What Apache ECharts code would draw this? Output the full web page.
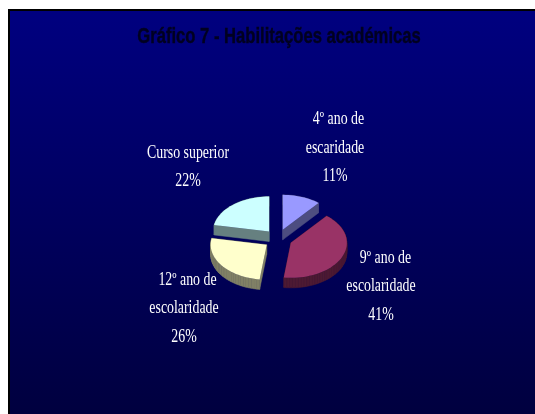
<!DOCTYPE html>
<html>
<head>
<meta charset="utf-8">
<style>html,body{margin:0;padding:0;background:#fff}#c{width:535px;height:414px}</style>
<script src="https://cdn.jsdelivr.net/npm/echarts@6/dist/echarts.min.js"></script>
</head>
<body>
<div id="c"></div>
<script>
var titleText = 'Gráfico 7 - Habilitações académicas';
var categories = ['4º ano de\nescaridade', '9º ano de\nescolaridade', '12º ano de\nescolaridade', 'Curso superior'];
var values = [11, 41, 26, 22];
var topColors = ['#9999FF', '#993366', '#FFFFCC', '#CCFFFF'];
var sideColors = ['#4D4D80', '#4D1A33', '#808066', '#668080'];
var labelCenters = [[335, 148], [381, 286.5], [184, 308.5], [188, 167.5]];
var firstLineNudge = [3.5, 4.5, 3.5, 0];

var cx = 278, cy = 239, rx = 56, ry = 35, depth = 10, explodeX = 14, explodeY = 9.7;
var total = values.reduce(function (a, b) { return a + b; }, 0);

function outline(startDeg, endDeg, ax, ay) {
  var pts = [[ax, ay]];
  var n = Math.max(4, Math.ceil((endDeg - startDeg) / 3));
  for (var i = 0; i <= n; i++) {
    var a = (startDeg + (endDeg - startDeg) * i / n) * Math.PI / 180;
    pts.push([ax + rx * Math.sin(a), ay - ry * Math.cos(a)]);
  }
  return pts;
}

function renderItem(params, api) {
  var idx = params.dataIndex;
  var before = 0;
  for (var k = 0; k < idx; k++) before += values[k];
  var v = api.value(0);
  var start = before / total * 360;
  var end = start + v / total * 360;
  var mid = (start + end) / 2 * Math.PI / 180;
  var ax = cx + explodeX * Math.sin(mid);
  var ay = cy - explodeY * Math.cos(mid);
  var pts = outline(start, end, ax, ay);
  var children = [];
  for (var i = 0; i < pts.length; i++) {
    var p = pts[i], q = pts[(i + 1) % pts.length];
    children.push({
      type: 'polygon',
      shape: { points: [p, q, [q[0], q[1] + depth], [p[0], p[1] + depth]] },
      style: { fill: sideColors[idx], stroke: sideColors[idx], lineWidth: 0.5 }
    });
  }
  children.push({
    type: 'polygon',
    shape: { points: pts },
    style: { fill: topColors[idx] }
  });
  var lines = (categories[idx] + '\n' + v + '%').split('\n');
  var c = labelCenters[idx];
  lines.forEach(function (line, li) {
    children.push({
      type: 'text',
      x: c[0] + (li === 0 ? firstLineNudge[idx] : 0),
      y: c[1] + (li - (lines.length - 1) / 2) * 28.5,
      scaleX: 0.77,
      style: {
        text: line,
        fill: '#FFFFFF',
        font: '18px "Liberation Serif", serif',
        textAlign: 'center',
        textVerticalAlign: 'middle'
      }
    });
  });
  return { type: 'group', children: children };
}

var chart = echarts.init(document.getElementById('c'), null, { renderer: 'canvas' });
chart.setOption({
  animation: false,
  backgroundColor: '#FFFFFF',
  graphic: [
    {
      type: 'rect',
      z: 0,
      shape: { x: 9, y: 10, width: 540, height: 420 },
      style: {
        fill: new echarts.graphic.LinearGradient(0, 0, 0, 1, [
          { offset: 0, color: '#000080' },
          { offset: 1, color: '#00003C' }
        ]),
        stroke: '#000000',
        lineWidth: 2
      }
    },
    {
      type: 'text',
      z: 5,
      x: 279,
      y: 37,
      scaleX: 0.755,
      style: {
        text: titleText,
        fill: '#000020',
        stroke: '#000020',
        lineWidth: 0.4,
        font: 'bold 22px "Liberation Sans", Arial, sans-serif',
        textAlign: 'center',
        textVerticalAlign: 'middle'
      }
    }
  ],
  series: [{
    type: 'custom',
    coordinateSystem: 'none',
    silent: true,
    z: 3,
    renderItem: renderItem,
    data: values.map(function (v) { return [v]; })
  }]
});
</script>
</body>
</html>
